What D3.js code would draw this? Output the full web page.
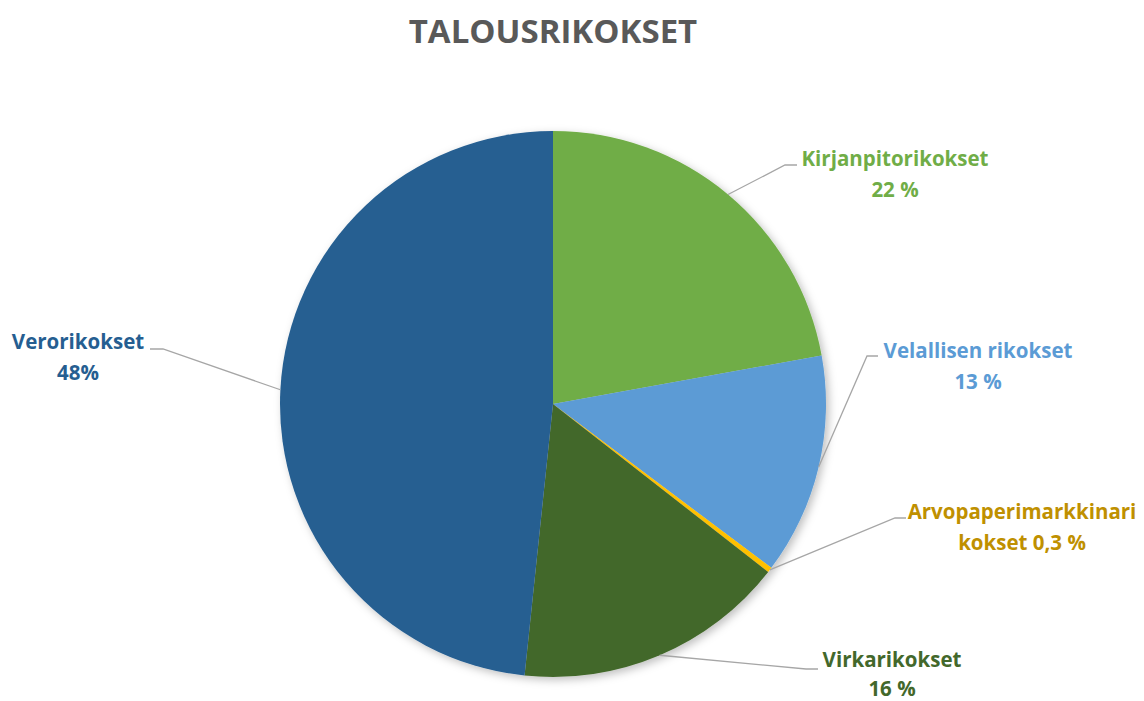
<!DOCTYPE html>
<html>
<head>
<meta charset="utf-8">
<script src="https://cdn.jsdelivr.net/npm/d3@7"></script>
<style>
  body { margin: 0; background: #fff; }
  svg { display: block; font-family: "Open Sans", Lato, sans-serif; }
</style>
</head>
<body>
<svg width="1144" height="701"></svg>
<script>
// data
const categories = ["Kirjanpitorikokset", "Velallisen rikokset", "Arvopaperimarkkinarikokset", "Virkarikokset", "Verorikokset"];
const values = [22, 13, 0.3, 16, 48];
const labelLines = [
   ["Kirjanpitorikokset", "22 %"],
   ["Velallisen rikokset", "13 %"],
   ["Arvopaperimarkkinari", "kokset 0,3 %"],
   ["Virkarikokset", "16 %"],
   ["Verorikokset", "48%"]
];
const colors = ["#70AD47", "#5B9BD5", "#FFC000", "#43682B", "#255E91"];
const labelColors = ["#70AD47", "#5B9BD5", "#BF9000", "#43682B", "#255E91"];

// label placement (text centre, elbow, end of leader, line gap)
const labelPos = [
   {x: 895, y: 166, elbow: [785, 165], end: [797, 165], gap: 31},
   {x: 978, y: 358, elbow: [867, 356], end: [878, 356], gap: 31},
   {x: 1022, y: 519, elbow: [895, 518], end: [906, 518], gap: 31},
   {x: 892, y: 667, elbow: [806, 669], end: [818, 669], gap: 29},
   {x: 78, y: 349, elbow: [163, 349], end: [150, 349], gap: 31}
];

const svg = d3.select("svg");
const cx = 553, cy = 404, r = 273;

// title
svg.append("text")
   .attr("x", cx)
   .attr("y", 43)
   .attr("text-anchor", "middle")
   .style("font-size", "33px")
   .style("font-weight", "bold")
   .style("fill", "#595959")
   .text("TALOUSRIKOKSET");

// soft shadow like the original
const defs = svg.append("defs");
defs.append("filter")
   .attr("id", "shadow")
   .attr("x", "-10%").attr("y", "-10%").attr("width", "120%").attr("height", "120%")
   .append("feDropShadow")
   .attr("dx", 3).attr("dy", 3)
   .attr("stdDeviation", 4)
   .attr("flood-color", "#000")
   .attr("flood-opacity", 0.25);

const pie = d3.pie().sort(null).value(d => d);
const arcs = pie(values);
const arc = d3.arc().innerRadius(0).outerRadius(r);

const g = svg.append("g")
   .attr("transform", `translate(${cx}, ${cy})`);

g.append("g")
   .attr("filter", "url(#shadow)")
   .selectAll("path")
   .data(arcs)
   .enter()
   .append("path")
   .attr("d", arc)
   .attr("fill", (d, i) => colors[i]);

// leader lines
arcs.forEach((d, i) => {
   const a = (d.startAngle + d.endAngle) / 2;
   const p = labelPos[i];
   const sx = cx + Math.sin(a) * r;
   const sy = cy - Math.cos(a) * r;
   svg.append("polyline")
      .attr("points", `${sx},${sy} ${p.elbow[0]},${p.elbow[1]} ${p.end[0]},${p.end[1]}`)
      .attr("fill", "none")
      .attr("stroke", "#A6A6A6")
      .attr("stroke-width", 1.3);
});

// labels
labelLines.forEach((lines, i) => {
   const p = labelPos[i];
   const t = svg.append("text")
      .attr("text-anchor", "middle")
      .style("font-size", "20.5px")
      .style("font-weight", "bold")
      .style("fill", labelColors[i]);
   lines.forEach((s, j) => {
      t.append("tspan")
         .attr("x", p.x)
         .attr("y", p.y + j * p.gap)
         .text(s);
   });
});
</script>
</body>
</html>
